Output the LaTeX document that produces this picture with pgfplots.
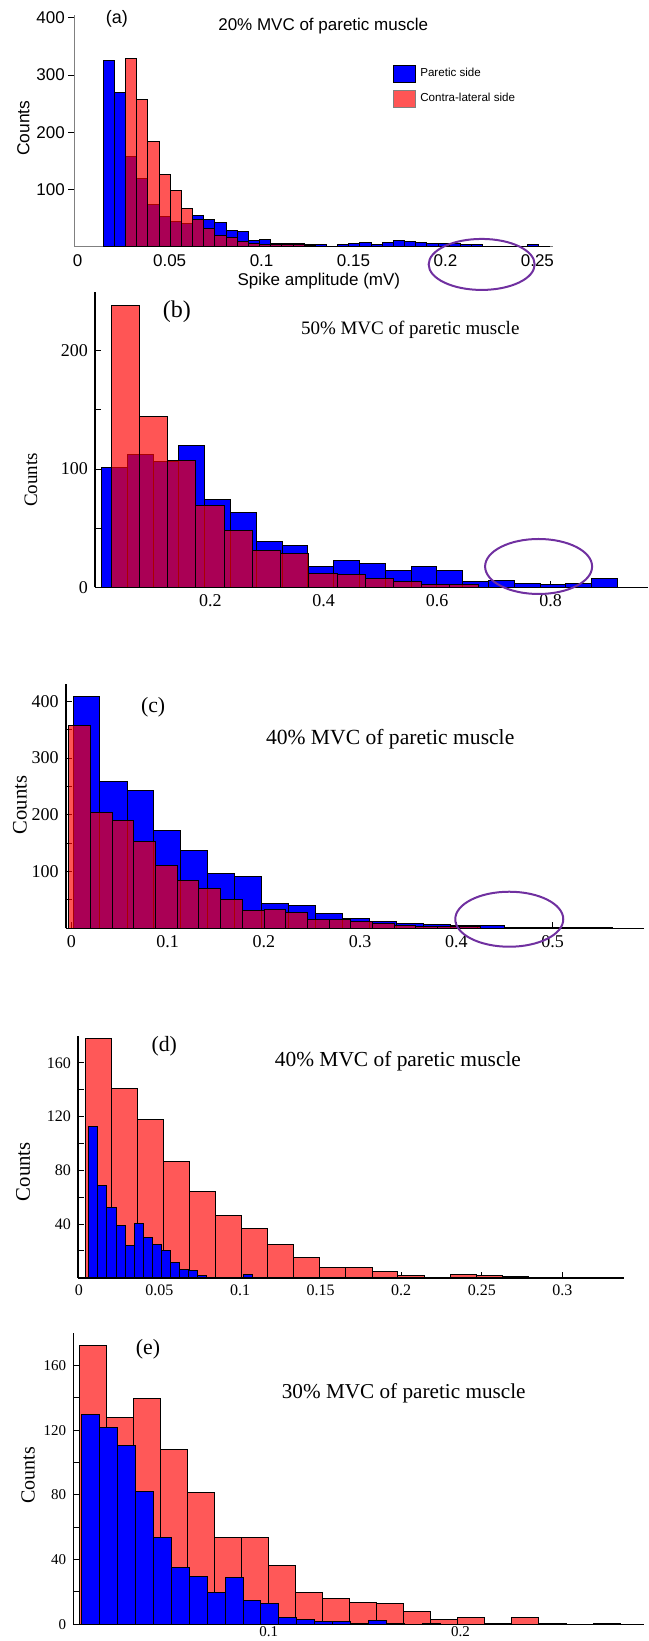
\documentclass[border=0pt]{standalone}
\usepackage{fontspec}
\setmainfont{Liberation Serif}
\newfontfamily\arialfont{Liberation Sans}
\usepackage{pgfplots}
\pgfplotsset{compat=1.18}

\definecolor{redbar}{RGB}{255,88,88}
\definecolor{ringcol}{RGB}{112,48,160}
\newcommand\fs[1]{\fontsize{#1}{#1}\selectfont}

\pgfplotsset{
  panel/.style={
    scale only axis, axis lines=left,
    axis line style={-, line width=0.8pt},
    tick align=inside, major tick length=3pt,
    tick style={black, line width=0.5pt},
    clip=false, ymin=0,
  },
  bluebars/.style={ybar interval, fill=blue, draw=black, line width=0.5pt},
  redover/.style={ybar interval, fill=red, fill opacity=0.667, draw=black, line width=0.5pt},
  redbase/.style={ybar interval, fill=redbar, draw=black, line width=0.5pt},
  sq/.style={legend image code/.code={\draw[##1] (0pt,-4.25pt) rectangle (11pt,4.25pt);}},
}

\begin{document}
\begin{tikzpicture}
\useasboundingbox (0,0) rectangle (324pt,-820.5pt);

% ---------- (a) 20% MVC ----------
\begin{axis}[panel,
  at={(37.1pt,-123.35pt)}, anchor=south west,
  width=239.4pt, height=115.85pt,
  xmin=-0.0019, xmax=0.2585, ymax=405,
  axis line style={-, gray, line width=0.6pt},
  tick align=outside,
  xtick={0,0.05,0.1,0.15,0.2,0.25},
  xticklabels={0,0.05,0.1,0.15,0.2,0.25},
  xtick style={draw=none},
  xticklabel style={yshift=2.5pt},
  ytick={100,200,300,400}, yticklabels={100,200,300,400},
  yticklabel style={inner sep=1.5pt},
  tick label style={font=\arialfont\fs{8.5}},
  xlabel={Spike amplitude (mV)},
  xlabel style={at={(axis description cs:0.511,-0.148)}, anchor=center, font=\arialfont\fs{8.5}},
  ylabel={Counts},
  ylabel style={at={(axis description cs:-0.106,0.512)}, anchor=center, font=\arialfont\fs{8.7}},
  legend style={at={(0.666,0.79)}, anchor=north west, draw=none, fill=none,
    inner sep=0pt, row sep=2.8pt, font=\arialfont\fs{5.8}},
  legend cell align=left,
]
\addplot[bluebars, forget plot] coordinates {
(0.01395,325) (0.02002,270) (0.02609,157) (0.03215,120) (0.03822,73)
(0.04429,52) (0.05036,44) (0.05643,40) (0.06249,55) (0.06856,47)
(0.07463,42) (0.08070,29) (0.08677,27) (0.09283,10) (0.09890,12)
(0.10497,5) (0.11104,5) (0.11711,5) (0.12317,3) (0.12924,3)
(0.13531,1) (0.14138,4) (0.14745,5) (0.15351,7) (0.15958,3)
(0.16565,8) (0.17172,11) (0.17779,9) (0.18385,8) (0.18992,6)
(0.19599,5) (0.20206,5) (0.20813,4) (0.21419,4) (0.22026,0)
(0.22633,1) (0.23240,1) (0.23847,1) (0.24453,3) (0.25060,1)
(0.25667,0)
};
\addplot[redover, forget plot] coordinates {
(0.02609,329) (0.03215,258) (0.03822,184) (0.04429,127) (0.05036,98)
(0.05643,66) (0.06249,48) (0.06856,31) (0.07463,20) (0.08070,16)
(0.08677,9) (0.09283,6) (0.09890,4) (0.10497,3) (0.11104,3)
(0.11711,3) (0.12317,2) (0.12924,1) (0.13531,1) (0.14138,0)
};
\addlegendimage{sq, fill=blue, draw=black, line width=0.4pt}
\addlegendentry{Paretic side}
\addlegendimage{sq, fill=red, fill opacity=0.667, draw=gray, line width=0.4pt}
\addlegendentry{Contra-lateral side}
\node[font=\arialfont\fs{8.5}] at (rel axis cs:0.52,0.95) {20\% MVC of paretic muscle};
\node[font=\arialfont\fs{9}] at (rel axis cs:0.089,0.984) {(a)};
\draw[ringcol, line width=1pt] (axis cs:0.2197,-31) ellipse [x radius=26.5pt, y radius=12.75pt];
\end{axis}

% ---------- (b) 50% MVC ----------
\begin{axis}[panel,
  at={(47.5pt,-293.65pt)}, anchor=south west,
  width=276.5pt, height=147.8pt,
  xmin=-0.0035, xmax=0.972, ymax=250,
  xtick={0.2,0.4,0.6,0.8}, xticklabels={0.2,0.4,0.6,0.8},
  ytick={0,50,100,150,200}, yticklabels={0,,100,,200},
  tick label style={font=\fs{9}},
  ylabel={Counts},
  ylabel style={at={(axis description cs:-0.1157,0.363)}, anchor=center, font=\fs{9.5}},
]
\addplot[bluebars] coordinates {
(0.0081,101) (0.0536,112) (0.0991,106) (0.1446,120) (0.1901,74)
(0.2356,63) (0.2811,38.6) (0.3266,35) (0.3721,17.5) (0.4176,23)
(0.4631,20) (0.5086,14) (0.5541,17.5) (0.5996,14) (0.6451,4.5)
(0.6906,5.4) (0.7361,3.4) (0.7816,2.5) (0.8271,3.4) (0.8726,7.3)
(0.9181,0)
};
\addplot[redover] coordinates {
(0.025,238.6) (0.0748,144.8) (0.1246,107.6) (0.1744,69) (0.2242,48.2)
(0.274,31.5) (0.3238,28.5) (0.3736,11.3) (0.4234,10.7) (0.4732,7.3)
(0.523,4.8) (0.5728,2.5) (0.6226,2.5) (0.6724,0)
};
\node[font=\fs{9.5}] at (rel axis cs:0.570,0.870) {50\% MVC of paretic muscle};
\node[font=\fs{12}] at (rel axis cs:0.148,0.932) {(b)};
\draw[ringcol, line width=1pt] (axis cs:0.779,17.6) ellipse [x radius=26.75pt, y radius=13.75pt];
\end{axis}

% ---------- (c) 40% MVC ----------
\begin{axis}[panel,
  at={(32.9pt,-464.15pt)}, anchor=south west,
  width=289.1pt, height=122pt,
  xmin=-0.0058, xmax=0.595, ymax=430,
  xtick={0,0.1,0.2,0.3,0.4,0.5}, xticklabels={0,0.1,0.2,0.3,0.4,0.5},
  ytick={50,100,...,400}, yticklabels={,100,,200,,300,,400},
  tick label style={font=\fs{9}},
  ylabel={Counts},
  ylabel style={at={(axis description cs:-0.0792,0.505)}, anchor=center, font=\fs{10.3}},
]
\addplot[bluebars] coordinates {
(0.0017,409) (0.0297,258) (0.0578,243) (0.0858,172) (0.1138,138)
(0.1419,97) (0.1699,91) (0.1979,44) (0.2259,41) (0.2540,26.4)
(0.2820,17) (0.3100,11.7) (0.3381,8.8) (0.3661,5.9) (0.3941,4.1)
(0.4222,5.3) (0.4502,1) (0.4782,1) (0.5063,2) (0.5343,2)
(0.5623,0)
};
\addplot[redover] coordinates {
(-0.0026,356.6) (0.0199,204) (0.0425,189.4) (0.0650,152.5) (0.0875,110.3)
(0.1101,83.9) (0.1326,70.4) (0.1551,51) (0.1776,31) (0.2002,33.4)
(0.2227,27.6) (0.2452,14.7) (0.2678,15.8) (0.2903,11.7) (0.3128,7.6)
(0.3354,5.3) (0.3579,3.5) (0.3804,3.5) (0.4029,2.9) (0.4255,0)
};
\node[font=\fs{10.8}] at (rel axis cs:0.561,0.775) {40\% MVC of paretic muscle};
\node[font=\fs{10.9}] at (rel axis cs:0.151,0.906) {(c)};
\draw[ringcol, line width=1pt] (axis cs:0.455,16) ellipse [x radius=27pt, y radius=13.75pt];
\end{axis}

% ---------- (d) 40% MVC ----------
\begin{axis}[panel,
  at={(39pt,-638.85pt)}, anchor=south west,
  width=273pt, height=120.85pt,
  xmin=-0.0005, xmax=0.3382, ymax=180,
  xtick={0,0.05,0.1,0.15,0.2,0.25,0.3}, xticklabels={0,0.05,0.1,0.15,0.2,0.25,0.3},
  ytick={20,40,...,160}, yticklabels={,40,,80,,120,,160},
  tick label style={font=\fs{8}},
  ylabel={Counts},
  ylabel style={at={(axis description cs:-0.1007,0.4386)}, anchor=center, font=\fs{10.4}},
]
\addplot[redbase] coordinates {
(0.0041,178) (0.0202,141) (0.0364,118) (0.0526,86.6) (0.0687,64.4)
(0.0849,46.3) (0.1010,36.6) (0.1172,24.9) (0.1334,14.7) (0.1495,7.7)
(0.1657,7.7) (0.1819,4.7) (0.1980,1.7) (0.2142,0.5) (0.2303,2.5)
(0.2465,1.7) (0.2627,1) (0.2788,0.5) (0.2950,0.5) (0.3111,0.5)
(0.3273,0)
};
\addplot[bluebars] coordinates {
(0.0062,112.7) (0.0118,68.7) (0.0174,52.5) (0.0231,38.6) (0.0287,23.9)
(0.0343,40.5) (0.0400,29.9) (0.0456,24.6) (0.0512,20.1) (0.0568,11.2)
(0.0625,6.2) (0.0681,5) (0.0737,1.5) (0.0794,0.5) (0.0850,0.3)
(0.0906,0.5) (0.0963,0.5) (0.1019,2.5) (0.1075,0.5) (0.1131,0)
};
\node[font=\fs{10.7}] at (rel axis cs:0.586,0.894) {40\% MVC of paretic muscle};
\node[font=\fs{10.9}] at (rel axis cs:0.158,0.956) {(d)};
\end{axis}

% ---------- (e) 30% MVC ----------
\begin{axis}[panel,
  at={(36.65pt,-812.15pt)}, anchor=south west,
  width=285.35pt, height=145.5pt,
  xmin=-0.002, xmax=0.2958, ymax=180,
  xtick={0.1,0.2}, xticklabels={0.1,0.2},
  xticklabel style={inner sep=0.8pt},
  ytick={0,20,...,160}, yticklabels={0,,40,,80,,120,,160},
  tick label style={font=\fs{7.5}},
  ylabel={Counts},
  ylabel style={at={(axis description cs:-0.0794,0.513)}, anchor=center, font=\fs{10}},
]
\addplot[redbase] coordinates {
(0.0011,172.2) (0.0152,128.2) (0.0293,139.9) (0.0434,108) (0.0575,81.3)
(0.0717,53.9) (0.0858,53.9) (0.0999,36.2) (0.1140,19.8) (0.1281,16)
(0.1422,13.8) (0.1563,12.8) (0.1704,8) (0.1845,3.1) (0.1986,4.1)
(0.2128,0.8) (0.2269,4.1) (0.2410,0.8) (0.2551,0) (0.2692,0.8)
(0.2833,0)
};
\addplot[bluebars] coordinates {
(0.0024,129.6) (0.0117,122) (0.0211,110.7) (0.0304,81.9) (0.0398,53.9)
(0.0491,35) (0.0585,29.8) (0.0678,19.5) (0.0772,29.2) (0.0866,15)
(0.0959,13) (0.1053,4.1) (0.1146,3.1) (0.1240,1.9) (0.1333,1.9)
(0.1427,0.6) (0.1520,2.1) (0.1614,0.3) (0.1707,0) (0.1801,0.8)
(0.1894,0)
};
\node[font=\fs{10.6}] at (rel axis cs:0.579,0.794) {30\% MVC of paretic muscle};
\node[font=\fs{10.9}] at (rel axis cs:0.131,0.946) {(e)};
\end{axis}
\end{tikzpicture}
\end{document}
